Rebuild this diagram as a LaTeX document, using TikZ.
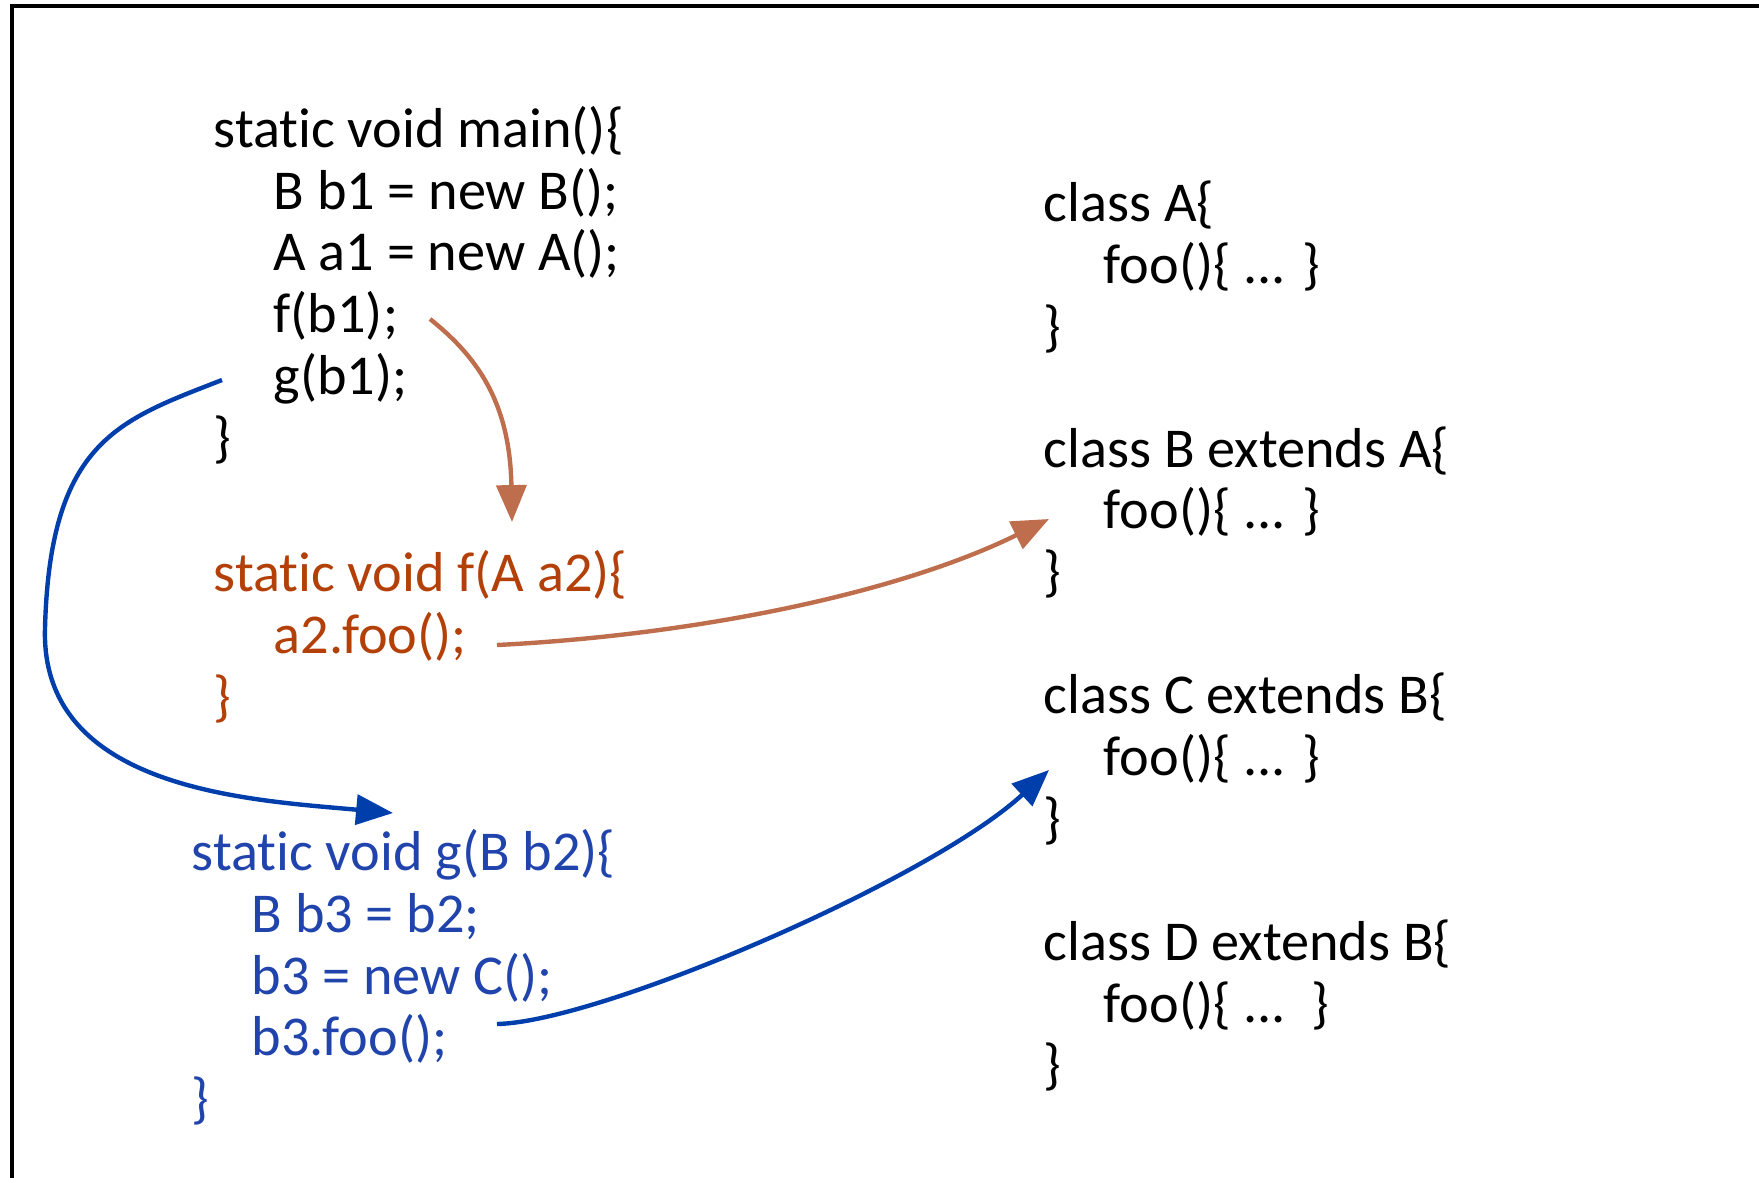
\documentclass[tikz,border=0pt]{standalone}
\usepackage{fontspec}
\setmainfont{Carlito}[Ligatures=NoCommon]
\usetikzlibrary{arrows.meta}

\definecolor{fText}{RGB}{178,64,8}
\definecolor{fArrow}{RGB}{190,110,76}
\definecolor{gText}{RGB}{32,68,172}
\definecolor{gArrow}{RGB}{0,62,172}

\tikzset{
  code/.style={anchor=base west, inner sep=0pt, font=\fontsize{16}{19}\selectfont},
  call/.style={line width=1.25pt, -{Triangle[length=10.5pt,width=8.5pt]}},
}

\begin{document}
\begin{tikzpicture}[x=0.01cm, y=-0.01cm]
  \useasboundingbox (0,0) rectangle (1759,1178);
  % frame, only its top and left edges show
  \draw[line width=1.1pt] (1759,6) -- (12,6) -- (12,1178);

  % --- main ---------------------------------------------------------
  \node[code] (m1) at (213,147) {static void main()\{};
  \node[code] (m2) at (273,209) {B b1 = new B();};
  \node[code] (m3) at (273,270) {A a1 = new A();};
  \node[code] (m4) at (273,332) {f(b1);};
  \node[code] (m5) at (273,394) {g(b1);};
  \node[code] (m6) at (213,456) {\}};

  % --- f ------------------------------------------------------------
  \node[code,fText] (f1) at (213,591) {static void f(A a2)\{};
  \node[code,fText] (f2) at (273,653) {a2.foo();};
  \node[code,fText] (f3) at (213,715) {\}};

  % --- g ------------------------------------------------------------
  \node[code,gText] (g1) at (191,870) {static void g(B b2)\{};
  \node[code,gText] (g2) at (251,932) {B b3 = b2;};
  \node[code,gText] (g3) at (251,994) {b3 = new C();};
  \node[code,gText] (g4) at (251,1055) {b3.foo();};
  \node[code,gText] (g5) at (191,1117) {\}};

  % --- classes --------------------------------------------------------
  \node[code] (a1) at (1043,221) {class A\{};
  \node[code] (a2) at (1103,283) {foo()\{ ... \}};
  \node[code] (a3) at (1043,345) {\}};
  \node[code] (b1) at (1043,467) {class B extends A\{};
  \node[code] (b2) at (1103,528) {foo()\{ ... \}};
  \node[code] (b3) at (1043,590) {\}};
  \node[code] (c1) at (1043,713) {class C extends B\{};
  \node[code] (c2) at (1103,775) {foo()\{ ... \}};
  \node[code] (c3) at (1043,837) {\}};
  \node[code] (d1) at (1043,960) {class D extends B\{};
  \node[code] (d2) at (1103,1022) {foo()\{ ...\ \ \}};
  \node[code] (d3) at (1043,1083) {\}};

  % --- calls ----------------------------------------------------------
  \draw[call,fArrow] ([shift={(157,-13)}]m4.base west)
       .. controls +(45,36) and +(-2,-122) .. ([shift={(299,-69)}]f1.base west);
  \draw[call,fArrow] ([shift={(224,-8)}]f2.base west)
       .. controls +(200,-10) and +(-150,74) .. ([shift={(-54,-9)}]b2.base west);
  \draw[call,gArrow] ([shift={(-51,-14)}]m5.base west)
       .. controls +(-102,40) and +(5,-188) .. (45,628)
       .. controls +(-5,162) and +(-143,-13) .. ([shift={(202,-57)}]g1.base west);
  \draw[call,gArrow] ([shift={(246,-31)}]g4.base west)
       .. controls +(103,-2) and +(-119,110) .. ([shift={(-54,-5)}]c2.base west);
\end{tikzpicture}
\end{document}
